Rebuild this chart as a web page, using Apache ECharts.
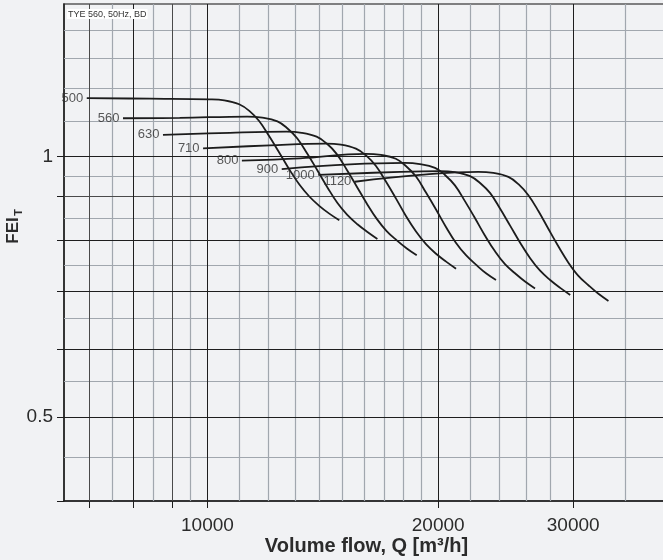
<!DOCTYPE html>
<html><head><meta charset="utf-8">
<script src="https://cdn.jsdelivr.net/npm/echarts@6/dist/echarts.min.js"></script>
<style>html,body{margin:0;padding:0;background:#f1f2f4;}#chart{width:663px;height:560px;}</style>
</head><body><div id="chart"></div>
<script>
// ---- data (Q in m3/h, FEI_T) ----
const sizes = ['500', '560', '630', '710', '800', '900', '1000', '1120'];
const q500 = [6960, 8410, 10050, 10520, 11000, 11340, 11680, 12040, 12410, 12790, 13180, 13580, 13990, 14420, 14860];
const fei500 = [1.168, 1.166, 1.164, 1.161, 1.149, 1.129, 1.099, 1.055, 1.010, 0.966, 0.928, 0.899, 0.877, 0.859, 0.844];
const q560 = [7760, 9200, 11270, 11790, 12340, 12710, 13100, 13500, 13910, 14340, 14770, 15220, 15690, 16170, 16660];
const fei560 = [1.107, 1.108, 1.112, 1.109, 1.098, 1.078, 1.049, 1.007, 0.964, 0.921, 0.884, 0.856, 0.835, 0.818, 0.803];
const q630 = [8750, 10700, 12680, 13270, 13880, 14310, 14740, 15190, 15650, 16130, 16630, 17130, 17660, 18200, 18750];
const fei630 = [1.059, 1.065, 1.068, 1.065, 1.054, 1.035, 1.007, 0.966, 0.924, 0.883, 0.847, 0.820, 0.800, 0.783, 0.769];
const q710 = [9870, 12060, 14270, 14930, 15620, 16100, 16590, 17100, 17620, 18160, 18710, 19280, 19870, 20480, 21100];
const fei710 = [1.022, 1.030, 1.035, 1.032, 1.021, 1.003, 0.975, 0.935, 0.894, 0.853, 0.819, 0.792, 0.772, 0.756, 0.742];
const q800 = [11090, 13200, 16090, 16840, 17610, 18150, 18710, 19270, 19860, 20470, 21090, 21740, 22400, 23090, 23790];
const fei800 = [0.989, 0.995, 1.007, 1.004, 0.994, 0.975, 0.948, 0.909, 0.869, 0.829, 0.795, 0.769, 0.750, 0.733, 0.720];
const q900 = [12500, 15340, 18090, 18930, 19810, 20410, 21030, 21670, 22330, 23020, 23720, 24440, 25190, 25960, 26750];
const fei900 = [0.967, 0.979, 0.983, 0.980, 0.970, 0.952, 0.926, 0.888, 0.849, 0.810, 0.777, 0.751, 0.733, 0.717, 0.704];
const q1000 = [13950, 17830, 20110, 21040, 22010, 22680, 23380, 24090, 24820, 25580, 26360, 27160, 27990, 28850, 29730];
const fei1000 = [0.952, 0.960, 0.962, 0.959, 0.949, 0.932, 0.907, 0.870, 0.832, 0.795, 0.763, 0.738, 0.720, 0.705, 0.692];
const q1120 = [15570, 18940, 22560, 23600, 24690, 25450, 26220, 27020, 27840, 28700, 29570, 30470, 31400, 32360, 33350];
const fei1120 = [0.935, 0.952, 0.960, 0.957, 0.947, 0.929, 0.902, 0.865, 0.825, 0.787, 0.754, 0.728, 0.710, 0.694, 0.681];

const qSets = [q500, q560, q630, q710, q800, q900, q1000, q1120];
const feiSets = [fei500, fei560, fei630, fei710, fei800, fei900, fei1000, fei1120];

// axis ranges and grid / tick values
const X_MIN = 6500, X_MAX = 40000, Y_MIN = 0.4, Y_MAX = 1.5;
const xGridMajor = [8000, 10000, 20000, 30000];
const xGridMid = [7000, 9000];
const xGridMinor = [7500, 8500, 9500, 11000, 12000, 13000, 14000, 15000, 16000, 17000, 18000, 19000, 22000, 24000, 26000, 28000, 35000];
const yGridMajor = [0.5, 0.6, 0.7, 0.8, 1];
const yGridMid = [0.9];
const yGridMinor = [0.45, 0.55, 0.65, 0.75, 0.85, 0.95, 1.1, 1.2, 1.3, 1.4];
const xTicks = [7000, 8000, 9000, 10000, 20000, 30000];
const xTickLabels = [10000, 20000, 30000];
const yTicks = [0.4, 0.5, 0.6, 0.7, 0.8, 0.9, 1];
const yTickLabels = [0.5, 1];

const FONT = "'Liberation Sans', Arial, Helvetica, sans-serif";
const INK = '#1c1c1c';
const TXT = '#2b2b2b';

function gridSeries(values, dir, color, width, z) {
  return {
    type: 'custom', z: z, silent: true, animation: false, clip: false,
    data: values.map(v => dir === 'v' ? [v, Y_MIN] : [X_MIN, v]),
    renderItem: function (params, api) {
      if (dir === 'v') {
        const v = api.value(0);
        const a = api.coord([v, Y_MIN]), b = api.coord([v, Y_MAX]);
        const x = Math.round(a[0]) + 0.5;
        return { type: 'line', shape: { x1: x, y1: a[1], x2: x, y2: b[1] }, style: { stroke: color, lineWidth: width } };
      }
      const v = api.value(1);
      const a = api.coord([X_MIN, v]), b = api.coord([X_MAX, v]);
      const y = Math.round(a[1]) + 0.5;
      return { type: 'line', shape: { x1: a[0], y1: y, x2: b[0], y2: y }, style: { stroke: color, lineWidth: width } };
    }
  };
}

const series = [
  gridSeries(xGridMinor, 'v', '#a1a7ae', 1.2, 1),
  gridSeries(yGridMinor, 'h', '#a1a7ae', 1.2, 1),
  gridSeries(xGridMid, 'v', '#4a4a4a', 1, 2),
  gridSeries(yGridMid, 'h', '#4a4a4a', 1, 2),
  gridSeries(xGridMajor, 'v', '#1e1e1e', 1, 3),
  gridSeries(yGridMajor, 'h', '#1e1e1e', 1, 3),
  {
    type: 'custom', z: 5, silent: true, animation: false, clip: false,
    data: xTicks.map(v => [v, Y_MIN]),
    renderItem: function (params, api) {
      const a = api.coord([api.value(0), Y_MIN]);
      const x = Math.round(a[0]) + 0.5;
      return { type: 'line', shape: { x1: x, y1: a[1], x2: x, y2: a[1] + 7 }, style: { stroke: INK, lineWidth: 1 } };
    }
  },
  {
    type: 'custom', z: 5, silent: true, animation: false, clip: false,
    data: yTicks.map(v => [X_MIN, v]),
    renderItem: function (params, api) {
      const a = api.coord([X_MIN, api.value(1)]);
      const y = Math.round(a[1]) + 0.5;
      return { type: 'line', shape: { x1: a[0] - 7, y1: y, x2: a[0], y2: y }, style: { stroke: INK, lineWidth: 1 } };
    }
  },
  {
    type: 'custom', z: 5, silent: true, animation: false, clip: false,
    data: xTickLabels.map(v => [v, Y_MIN]),
    renderItem: function (params, api) {
      const a = api.coord([api.value(0), Y_MIN]);
      return { type: 'text', x: a[0], y: a[1] + 25,
        style: { text: String(api.value(0)), fontSize: 19, fontFamily: FONT, fill: TXT, align: 'center', verticalAlign: 'middle' } };
    }
  },
  {
    type: 'custom', z: 5, silent: true, animation: false, clip: false,
    data: yTickLabels.map(v => [X_MIN, v]),
    renderItem: function (params, api) {
      const a = api.coord([X_MIN, api.value(1)]);
      return { type: 'text', x: a[0] - 11, y: a[1],
        style: { text: String(api.value(1)), fontSize: 19, fontFamily: FONT, fill: TXT, align: 'right', verticalAlign: 'middle' } };
    }
  }
];

qSets.forEach((qs, i) => {
  series.push({
    type: 'line', name: sizes[i], z: 10, animation: false, silent: true,
    data: qs.map((q, k) => [q, feiSets[i][k]]),
    showSymbol: false, symbol: 'none', smooth: 0.4,
    lineStyle: { color: INK, width: 1.8 }
  });
});

series.push({
  type: 'scatter', z: 11, animation: false, silent: true, clip: false,
  symbolSize: 1, itemStyle: { color: 'rgba(0,0,0,0)' },
  data: sizes.map((s, i) => [qSets[i][0], feiSets[i][0], s]),
  label: { show: true, position: 'left', distance: 3, fontSize: 13, fontFamily: FONT, color: '#2e2e2e',
    formatter: p => p.data[2] }
});

const chart = echarts.init(document.getElementById('chart'), null, { renderer: 'canvas' });
chart.setOption({
  backgroundColor: '#f1f2f4',
  animation: false,
  grid: { left: 64, right: -6, top: 4, bottom: 59, show: true, borderColor: '#5a5a5a', borderWidth: 1.5,
    backgroundColor: 'transparent', containLabel: false, outerBoundsMode: 'none' },
  xAxis: {
    type: 'log', logBase: 10, min: X_MIN, max: X_MAX,
    axisLine: { show: true, lineStyle: { color: INK, width: 1.5 } },
    axisTick: { show: false }, axisLabel: { show: false }, splitLine: { show: false }, minorSplitLine: { show: false },
    name: 'Volume flow, Q [m³/h]', nameLocation: 'middle', nameGap: 35,
    nameTextStyle: { fontSize: 20, fontWeight: 'bold', fontFamily: FONT, color: TXT }
  },
  yAxis: {
    type: 'log', logBase: 10, min: Y_MIN, max: Y_MAX,
    axisLine: { show: true, lineStyle: { color: INK, width: 1.5 } },
    axisTick: { show: false }, axisLabel: { show: false }, splitLine: { show: false }, minorSplitLine: { show: false }
  },
  graphic: [
    { type: 'text', left: 67, top: 9, z: 20,
      style: { text: 'TYE 560, 50Hz, BD', fontSize: 9, fontFamily: FONT, fill: '#333', backgroundColor: '#ffffff', padding: [1, 1, 0, 1] } },
    { type: 'text', x: 13.5, y: 230.5, rotation: Math.PI / 2, z: 20,
      style: { text: 'FEI', align: 'center', verticalAlign: 'middle', fontSize: 17, fontWeight: 'bold', fontFamily: FONT, fill: TXT } },
    { type: 'text', x: 19, y: 212.5, rotation: Math.PI / 2, z: 20,
      style: { text: 'T', align: 'center', verticalAlign: 'middle', fontSize: 11, fontWeight: 'bold', fontFamily: FONT, fill: TXT } }
  ],
  series: series
});
</script></body></html>
